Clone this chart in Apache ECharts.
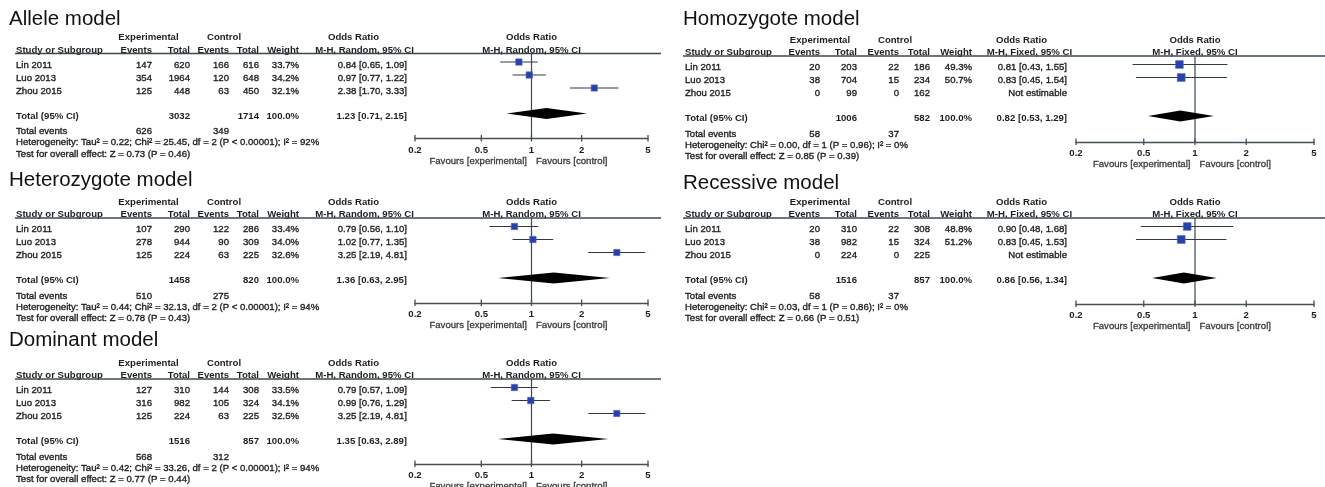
<!DOCTYPE html>
<html><head><meta charset="utf-8">
<script src="https://cdn.jsdelivr.net/npm/echarts@6/dist/echarts.min.js"></script>
<style>html,body{margin:0;padding:0;background:#fff}#c{width:1325px;height:487px}</style>
</head><body><div id="c"></div>
<script>
// ---------------- DATA ----------------
const studies = ['Lin 2011', 'Luo 2013', 'Zhou 2015'];
const tickValues = [0.2, 0.5, 1, 2, 5];
const tickLabels = ['0.2', '0.5', '1', '2', '5'];
const modelNames = ['Allele model', 'Heterozygote model', 'Dominant model', 'Homozygote model', 'Recessive model'];
const methods = ['M-H, Random, 95% CI', 'M-H, Random, 95% CI', 'M-H, Random, 95% CI', 'M-H, Fixed, 95% CI', 'M-H, Fixed, 95% CI'];

// Allele
const alleleExpEvents = [147, 354, 125];
const alleleExpTotal = [620, 1964, 448];
const alleleCtlEvents = [166, 120, 63];
const alleleCtlTotal = [616, 648, 450];
const alleleWeight = [33.7, 34.2, 32.1];
const alleleOR = [0.84, 0.97, 2.38];
const alleleLo = [0.65, 0.77, 1.70];
const alleleHi = [1.09, 1.22, 3.33];
const alleleTotals = [3032, 1714];
const alleleTotalEvents = [626, 349];
const alleleOverall = [1.23, 0.71, 2.15];
const alleleHet = 'Heterogeneity: Tau² = 0.22; Chi² = 25.45, df = 2 (P < 0.00001); I² = 92%';
const alleleTest = 'Test for overall effect: Z = 0.73 (P = 0.46)';

// Heterozygote
const hetExpEvents = [107, 278, 125];
const hetExpTotal = [290, 944, 224];
const hetCtlEvents = [122, 90, 63];
const hetCtlTotal = [286, 309, 225];
const hetWeight = [33.4, 34.0, 32.6];
const hetOR = [0.79, 1.02, 3.25];
const hetLo = [0.56, 0.77, 2.19];
const hetHi = [1.10, 1.35, 4.81];
const hetTotals = [1458, 820];
const hetTotalEvents = [510, 275];
const hetOverall = [1.36, 0.63, 2.95];
const hetHet = 'Heterogeneity: Tau² = 0.44; Chi² = 32.13, df = 2 (P < 0.00001); I² = 94%';
const hetTest = 'Test for overall effect: Z = 0.78 (P = 0.43)';

// Dominant
const domExpEvents = [127, 316, 125];
const domExpTotal = [310, 982, 224];
const domCtlEvents = [144, 105, 63];
const domCtlTotal = [308, 324, 225];
const domWeight = [33.5, 34.1, 32.5];
const domOR = [0.79, 0.99, 3.25];
const domLo = [0.57, 0.76, 2.19];
const domHi = [1.09, 1.29, 4.81];
const domTotals = [1516, 857];
const domTotalEvents = [568, 312];
const domOverall = [1.35, 0.63, 2.89];
const domHet = 'Heterogeneity: Tau² = 0.42; Chi² = 33.26, df = 2 (P < 0.00001); I² = 94%';
const domTest = 'Test for overall effect: Z = 0.77 (P = 0.44)';

// Homozygote
const homExpEvents = [20, 38, 0];
const homExpTotal = [203, 704, 99];
const homCtlEvents = [22, 15, 0];
const homCtlTotal = [186, 234, 162];
const homWeight = [49.3, 50.7, null];
const homOR = [0.81, 0.83, null];
const homLo = [0.43, 0.45, null];
const homHi = [1.55, 1.54, null];
const homTotals = [1006, 582];
const homTotalEvents = [58, 37];
const homOverall = [0.82, 0.53, 1.29];
const homHet = 'Heterogeneity: Chi² = 0.00, df = 1 (P = 0.96); I² = 0%';
const homTest = 'Test for overall effect: Z = 0.85 (P = 0.39)';

// Recessive
const recExpEvents = [20, 38, 0];
const recExpTotal = [310, 982, 224];
const recCtlEvents = [22, 15, 0];
const recCtlTotal = [308, 324, 225];
const recWeight = [48.8, 51.2, null];
const recOR = [0.90, 0.83, null];
const recLo = [0.48, 0.45, null];
const recHi = [1.68, 1.53, null];
const recTotals = [1516, 857];
const recTotalEvents = [58, 37];
const recOverall = [0.86, 0.56, 1.34];
const recHet = 'Heterogeneity: Chi² = 0.03, df = 1 (P = 0.86); I² = 0%';
const recTest = 'Test for overall effect: Z = 0.66 (P = 0.51)';

const models = [
  [alleleExpEvents, alleleExpTotal, alleleCtlEvents, alleleCtlTotal, alleleWeight, alleleOR, alleleLo, alleleHi, alleleTotals, alleleTotalEvents, alleleOverall, alleleHet, alleleTest],
  [hetExpEvents, hetExpTotal, hetCtlEvents, hetCtlTotal, hetWeight, hetOR, hetLo, hetHi, hetTotals, hetTotalEvents, hetOverall, hetHet, hetTest],
  [domExpEvents, domExpTotal, domCtlEvents, domCtlTotal, domWeight, domOR, domLo, domHi, domTotals, domTotalEvents, domOverall, domHet, domTest],
  [homExpEvents, homExpTotal, homCtlEvents, homCtlTotal, homWeight, homOR, homLo, homHi, homTotals, homTotalEvents, homOverall, homHet, homTest],
  [recExpEvents, recExpTotal, recCtlEvents, recCtlTotal, recWeight, recOR, recLo, recHi, recTotals, recTotalEvents, recOverall, recHet, recTest]
];

// ---------------- LAYOUT ----------------
const FONT = '"Liberation Sans", Arial, Helvetica, sans-serif';
const LCOL = {title: 9, study: 16, expEv: 152, expTot: 190, ctlEv: 229, ctlTot: 259, weight: 299, or: 407,
  expC: 148.5, ctlC: 224, orC1: 353.5, orC2: 364.5, line1: 15, line2: 661, plotL: 415, plotW: 233};
const RCOL = {title: 683, study: 685, expEv: 820, expTot: 857, ctlEv: 899, ctlTot: 930, weight: 972, or: 1067,
  expC: 820, ctlC: 895, orC1: 1021.5, orC2: 1029.5, line1: 683, line2: 1325, plotL: 1076, plotW: 238};
const panels = [
  {col: LCOL, header: 53.5, titleMid: 19.6, axis: 138.5},
  {col: LCOL, header: 218, titleMid: 180.6, axis: 303},
  {col: LCOL, header: 379, titleMid: 340.6, axis: 464},
  {col: RCOL, header: 56, titleMid: 19.5, axis: 142},
  {col: RCOL, header: 218, titleMid: 183.5, axis: 304}
];
const ROW_TEXT = [11.5, 24.5, 37.5];
const ROW_MARK = [8.5, 21.5, 34.5];
const TOTAL_TEXT = 62.5, TOTAL_MARK = 60, TE_Y = 78, HET_Y = 89, TEST_Y = 100.5;
const LINE_COLOR = '#3a4853';
const TEXT_COLOR = '#1e1e1e';

function txt(x, y, s, opt) {
  opt = opt || {};
  const a = opt.align || 'left';
  const col = opt.color || TEXT_COLOR;
  const st = !(opt.noStroke || opt.weight === 'bold');
  return {type: 'text', silent: true, x: x, y: y,
    style: {text: String(s), font: (opt.weight || 'normal') + ' ' + (opt.size || 9.6) + 'px ' + FONT,
      fill: col, stroke: st ? col : null, lineWidth: st ? 0.35 : 0,
      align: a, textAlign: a, verticalAlign: 'middle', textVerticalAlign: 'middle'}};
}
function hline(x1, x2, y, w, c) {
  return {type: 'line', silent: true, shape: {x1: x1, y1: y, x2: x2, y2: y}, style: {stroke: c || LINE_COLOR, lineWidth: w || 1.3}};
}
const fmt2 = v => v.toFixed(2);
const orText = (o, l, h) => o == null ? 'Not estimable' : fmt2(o) + ' [' + fmt2(l) + ', ' + fmt2(h) + ']';

const graphics = [];
const grids = [], xAxes = [], yAxes = [], series = [];

panels.forEach((p, i) => {
  const c = p.col, H = p.header;
  const [eE, eT, cE, cT, wt, or, lo, hi, tot, tev, ov, het, test] = models[i];
  const B = {weight: 'bold'};
  graphics.push(txt(c.title, p.titleMid, modelNames[i], {size: 20.5, color: '#111', noStroke: true}));
  graphics.push(txt(c.expC, H - 16, 'Experimental', {weight: 'bold', align: 'center'}));
  graphics.push(txt(c.ctlC, H - 16, 'Control', {weight: 'bold', align: 'center'}));
  graphics.push(txt(c.orC1, H - 16, 'Odds Ratio', {weight: 'bold', align: 'center'}));
  graphics.push(txt(c.study, H - 3.5, 'Study or Subgroup', B));
  graphics.push(txt(c.expEv, H - 3.5, 'Events', {weight: 'bold', align: 'right'}));
  graphics.push(txt(c.expTot, H - 3.5, 'Total', {weight: 'bold', align: 'right'}));
  graphics.push(txt(c.ctlEv, H - 3.5, 'Events', {weight: 'bold', align: 'right'}));
  graphics.push(txt(c.ctlTot, H - 3.5, 'Total', {weight: 'bold', align: 'right'}));
  graphics.push(txt(c.weight, H - 3.5, 'Weight', {weight: 'bold', align: 'right'}));
  graphics.push(txt(c.orC2, H - 3.5, methods[i], {weight: 'bold', align: 'center'}));
  graphics.push(hline(c.line1, c.line2, H, 1.4));
  studies.forEach((s, r) => {
    const y = H + ROW_TEXT[r];
    graphics.push(txt(c.study, y, s));
    graphics.push(txt(c.expEv, y, eE[r], {align: 'right'}));
    graphics.push(txt(c.expTot, y, eT[r], {align: 'right'}));
    graphics.push(txt(c.ctlEv, y, cE[r], {align: 'right'}));
    graphics.push(txt(c.ctlTot, y, cT[r], {align: 'right'}));
    if (wt[r] != null) graphics.push(txt(c.weight, y, wt[r].toFixed(1) + '%', {align: 'right'}));
    graphics.push(txt(c.or, y, orText(or[r], lo[r], hi[r]), {align: 'right'}));
  });
  graphics.push(txt(c.study, H + TOTAL_TEXT, 'Total (95% CI)', B));
  graphics.push(txt(c.expTot, H + TOTAL_TEXT, tot[0], {weight: 'bold', align: 'right'}));
  graphics.push(txt(c.ctlTot, H + TOTAL_TEXT, tot[1], {weight: 'bold', align: 'right'}));
  graphics.push(txt(c.weight, H + TOTAL_TEXT, '100.0%', {weight: 'bold', align: 'right'}));
  graphics.push(txt(c.or, H + TOTAL_TEXT, orText(ov[0], ov[1], ov[2]), {weight: 'bold', align: 'right'}));
  graphics.push(txt(c.study, H + TE_Y, 'Total events'));
  graphics.push(txt(c.expEv, H + TE_Y, tev[0], {align: 'right'}));
  graphics.push(txt(c.ctlEv, H + TE_Y, tev[1], {align: 'right'}));
  graphics.push(txt(c.study, H + HET_Y, het));
  graphics.push(txt(c.study, H + TEST_Y, test));

  // plot grid
  const PH = p.axis - H;
  grids.push({left: c.plotL, top: H, width: c.plotW, height: PH, containLabel: false});
  xAxes.push({type: 'log', logBase: 10, min: 0.2, max: 5, gridIndex: i, position: 'bottom',
    axisLine: {show: true, onZero: false, lineStyle: {color: '#454f57', width: 1.4}},
    axisTick: {show: false}, axisLabel: {show: false}, splitLine: {show: false}});
  yAxes.push({type: 'value', gridIndex: i, min: 0, max: PH, inverse: true, show: false});

  // vertical line of no effect
  series.push({type: 'line', xAxisIndex: i, yAxisIndex: i, data: [[1, 0], [1, PH]], symbol: 'none', silent: true,
    lineStyle: {color: LINE_COLOR, width: 1.2}, animation: false, z: 1});
  // study CIs + squares
  const studyData = [];
  or.forEach((v, r) => { if (v != null) studyData.push([v, lo[r], hi[r], r, wt[r]]); });
  series.push({type: 'custom', xAxisIndex: i, yAxisIndex: i, data: studyData, silent: true, animation: false, z: 3,
    renderItem: function (params, api) {
      const r = api.value(3);
      const y = ROW_MARK[r];
      const pl = api.coord([api.value(1), y]);
      const ph = api.coord([api.value(2), y]);
      const pc = api.coord([api.value(0), y]);
      const sz = 1.1 * Math.sqrt(api.value(4));
      return {type: 'group', children: [
        {type: 'line', shape: {x1: pl[0], y1: pc[1], x2: ph[0], y2: pc[1]}, style: {stroke: '#2e3a40', lineWidth: 1.1}},
        {type: 'rect', shape: {x: pc[0] - sz / 2, y: pc[1] - sz / 2, width: sz, height: sz},
          style: {fill: '#2443b0', stroke: '#5a5fb5', lineWidth: 0.6}}
      ]};
    }});
  // overall diamond
  series.push({type: 'custom', xAxisIndex: i, yAxisIndex: i, data: [ov], silent: true, animation: false, z: 3,
    renderItem: function (params, api) {
      const y = TOTAL_MARK;
      const pe = api.coord([api.value(0), y]);
      const pl = api.coord([api.value(1), y]);
      const ph = api.coord([api.value(2), y]);
      return {type: 'polygon', shape: {points: [[pl[0], pe[1]], [pe[0], pe[1] - 5.5], [ph[0], pe[1]], [pe[0], pe[1] + 5.5]]},
        style: {fill: '#000'}};
    }});
  // ticks + tick labels
  series.push({type: 'custom', xAxisIndex: i, yAxisIndex: i, data: tickValues.map((v, k) => [v, k]), silent: true,
    animation: false, z: 2,
    renderItem: function (params, api) {
      const pt = api.coord([api.value(0), PH]);
      return {type: 'group', children: [
        {type: 'line', shape: {x1: pt[0], y1: pt[1] - 3.5, x2: pt[0], y2: pt[1] + 3}, style: {stroke: '#454f57', lineWidth: 1.3}},
        {type: 'text', x: pt[0], y: pt[1] + 11.5, style: {text: tickLabels[api.value(1)], font: 'bold 9.6px ' + FONT,
          fill: TEXT_COLOR, align: 'center', verticalAlign: 'middle'}}
      ]};
    }});
  // plot headers & favours labels, anchored at OR = 1
  series.push({type: 'custom', xAxisIndex: i, yAxisIndex: i, data: [[1]], silent: true, animation: false, z: 2,
    renderItem: function (params, api) {
      const top = api.coord([api.value(0), 0]);
      const bot = api.coord([api.value(0), PH]);
      const mk = (x, y, s, a, w, col) => ({type: 'text', x: x, y: y, style: {text: s, font: (w || 'normal') + ' 9.6px ' + FONT,
        fill: col || TEXT_COLOR, stroke: w === 'bold' ? null : (col || TEXT_COLOR), lineWidth: w === 'bold' ? 0 : 0.3,
        align: a, verticalAlign: 'middle'}});
      return {type: 'group', children: [
        mk(top[0], top[1] - 16, 'Odds Ratio', 'center', 'bold'),
        mk(top[0], top[1] - 3.5, methods[i], 'center', 'bold'),
        mk(bot[0] - 4.5, bot[1] + 22.5, 'Favours [experimental]', 'right', 'normal', '#3a3a3a'),
        mk(bot[0] + 4.5, bot[1] + 22.5, 'Favours [control]', 'left', 'normal', '#3a3a3a')
      ]};
    }});
});

const chart = echarts.init(document.getElementById('c'), null, {renderer: 'canvas'});
chart.setOption({
  backgroundColor: '#ffffff',
  animation: false,
  grid: grids, xAxis: xAxes, yAxis: yAxes, series: series,
  graphic: {elements: graphics}
});
</script></body></html>
